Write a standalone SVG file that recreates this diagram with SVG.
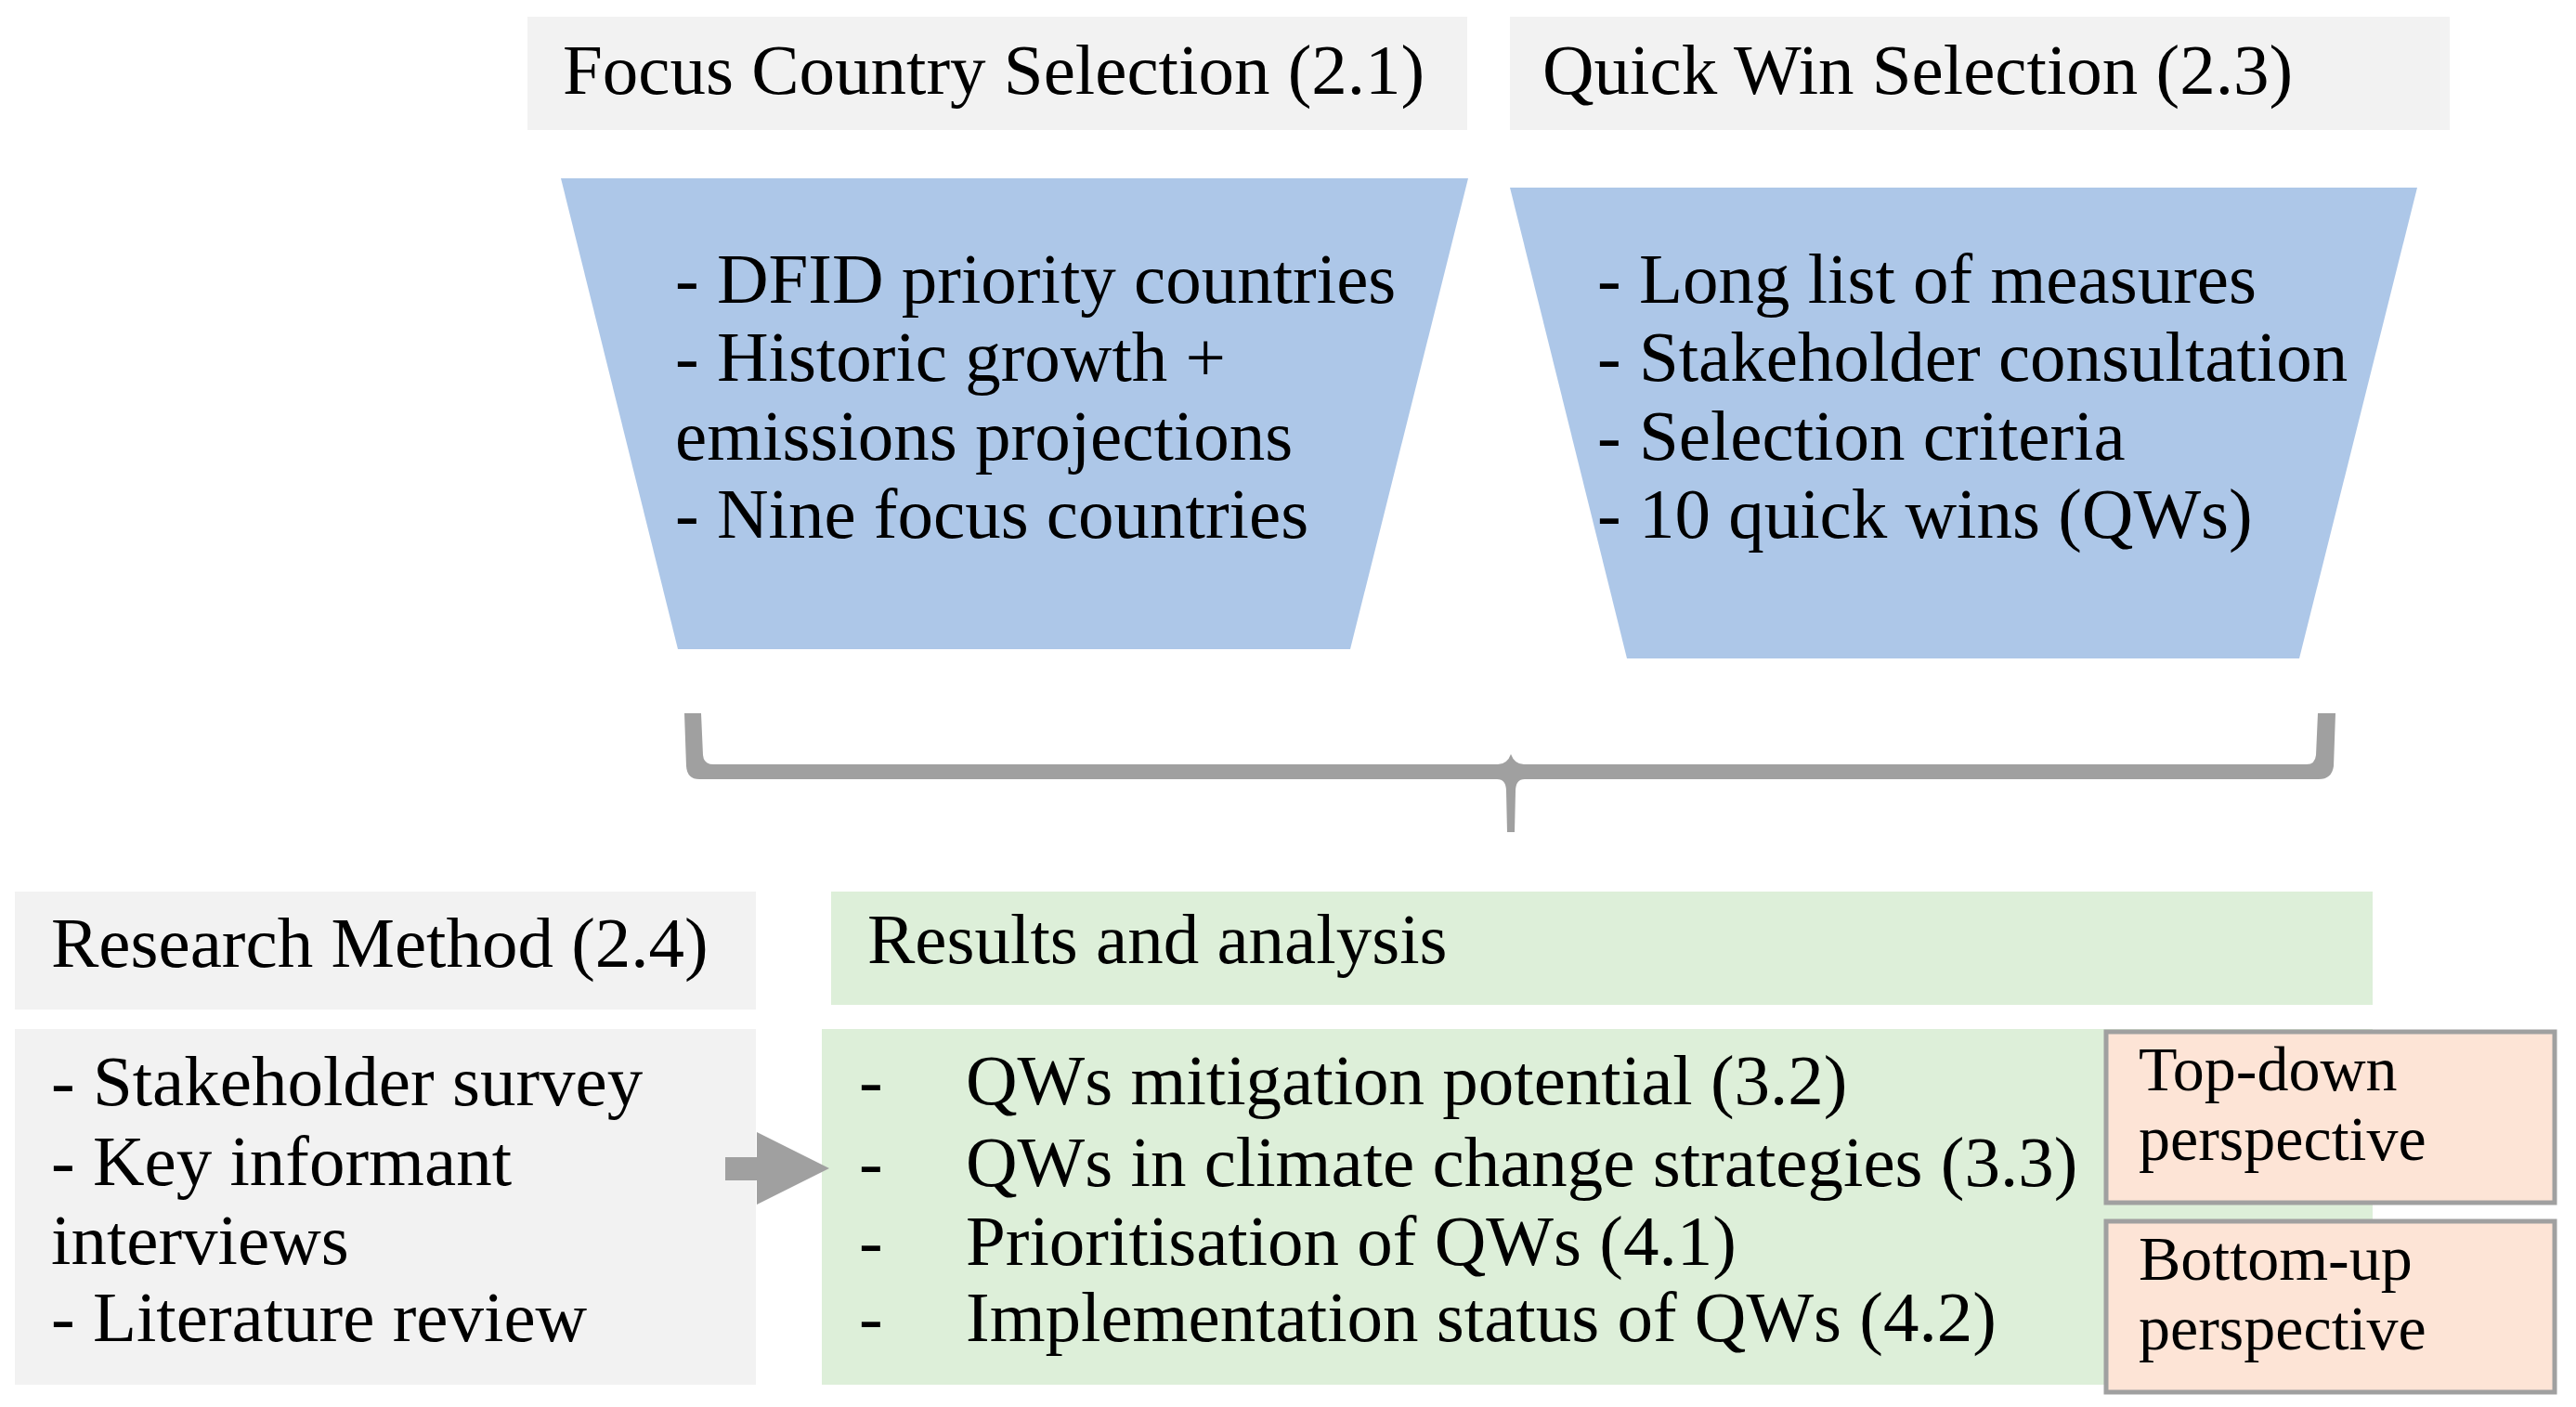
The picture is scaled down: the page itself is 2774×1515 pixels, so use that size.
<svg xmlns="http://www.w3.org/2000/svg" width="2774" height="1515" viewBox="0 0 2774 1515">
<style>
text{font-family:"Liberation Serif","Times New Roman",serif;fill:#000}
.t{font-size:77px}
.p{font-size:68px}
.grey{fill:#f2f2f2}
.blue{fill:#adc7e8}
.green{fill:#ddefd9}
.pink{fill:#fde4d6;stroke:#a0a0a0;stroke-width:5}
.conn{fill:#a0a0a0}
</style>
<rect width="2774" height="1515" fill="#fff"/>
<g id="focus-title"><rect class="grey" x="568" y="18" width="1012" height="122"/><text class="t" x="606" y="101">Focus Country Selection (2.1)</text></g>
<g id="quickwin-title"><rect class="grey" x="1626" y="18" width="1012" height="122"/><text class="t" x="1661" y="101">Quick Win Selection (2.3)</text></g>
<g id="focus-funnel"><polygon class="blue" points="604,192 1581,192 1454,699 730,699"/>
<text class="t" x="727" y="326">- DFID priority countries</text>
<text class="t" x="727" y="410">- Historic growth +</text>
<text class="t" x="727" y="495">emissions projections</text>
<text class="t" x="727" y="579">- Nine focus countries</text></g>
<g id="quickwin-funnel"><polygon class="blue" points="1626,202 2603,202 2476,709 1752,709"/>
<text class="t" x="1720" y="326">- Long list of measures</text>
<text class="t" x="1720" y="410">- Stakeholder consultation</text>
<text class="t" x="1720" y="495">- Selection criteria</text>
<text class="t" x="1720" y="579">- 10 quick wins (QWs)</text></g>
<g id="research-title"><rect class="grey" x="16" y="960" width="798" height="127"/><text class="t" x="55" y="1041">Research Method (2.4)</text></g>
<g id="research-list"><rect class="grey" x="16" y="1108" width="798" height="383"/>
<text class="t" x="55" y="1190">- Stakeholder survey</text>
<text class="t" x="55" y="1276">- Key informant</text>
<text class="t" x="55" y="1361">interviews</text>
<text class="t" x="55" y="1444">- Literature review</text></g>
<g id="results-title"><rect class="green" x="895" y="960" width="1660" height="122"/><text class="t" x="934" y="1037">Results and analysis</text></g>
<g id="results-list"><rect class="green" x="885" y="1108" width="1670" height="383"/>
<text class="t" x="925" y="1189">-</text><text class="t" x="1040" y="1189">QWs mitigation potential (3.2)</text>
<text class="t" x="925" y="1277">-</text><text class="t" x="1040" y="1277">QWs in climate change strategies (3.3)</text>
<text class="t" x="925" y="1362">-</text><text class="t" x="1040" y="1362">Prioritisation of QWs (4.1)</text>
<text class="t" x="925" y="1444">-</text><text class="t" x="1040" y="1444">Implementation status of QWs (4.2)</text></g>
<g id="top-down"><rect class="pink" x="2268" y="1111" width="483" height="184"/>
<text class="p" x="2303" y="1174">Top-down</text><text class="p" x="2303" y="1249">perspective</text></g>
<g id="bottom-up"><rect class="pink" x="2268" y="1315" width="483" height="184"/>
<text class="p" x="2303" y="1378">Bottom-up</text><text class="p" x="2303" y="1453">perspective</text></g>
<g id="connectors">
<path class="conn" d="M737 768 L755 768 L757 813 Q758 823 768 823 L1613 823 Q1623 823 1627 812 Q1631 823 1641 823 L2484 823 Q2493 823 2494 813 L2496 768 L2515 768 L2513 825 Q2511 839 2497 839 L1642 839 Q1632 839 1632 852 L1631 896 L1623 896 L1622 852 Q1622 839 1612 839 L753 839 Q740 839 739 825 Z"/>
<polygon class="conn" points="781,1246 815,1246 815,1219 893,1258 815,1297 815,1271 781,1271"/>
</g>
</svg>
